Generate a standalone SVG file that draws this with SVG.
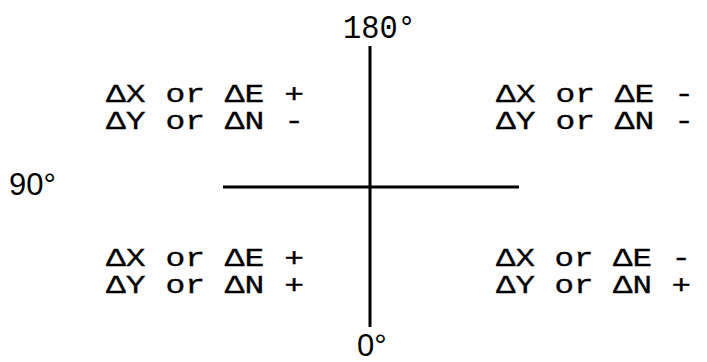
<svg xmlns="http://www.w3.org/2000/svg" width="707" height="362" viewBox="0 0 707 362">
<style>
.q{font-family:"Liberation Mono","DejaVu Sans Mono",monospace;font-size:25px;fill:#000;stroke:#000;stroke-width:0.3}
.d{font-family:"Liberation Sans",Arial,sans-serif;font-size:31px;fill:#000}
.m{font-family:"Liberation Mono","DejaVu Sans Mono",monospace;font-size:33px;fill:#000}
.ax{stroke:#000;stroke-width:3;fill:none}
</style>
<rect width="707" height="362" fill="#fff"/>
<g id="axes">
<line class="ax" x1="370" y1="46" x2="370" y2="327"/>
<line class="ax" x1="223" y1="187" x2="519" y2="187"/>
</g>
<g id="label-180"><text class="m" transform="translate(343,38) scale(0.92,1)">180°</text></g>
<g id="label-90"><text class="d" x="9" y="195">90°</text></g>
<g id="label-0"><text class="d" x="357" y="356" font-size="29">0°</text></g>
<g id="quad-ul">
<text class="q" transform="translate(106,102) scale(1.32,1)">ΔX or ΔE +</text>
<text class="q" transform="translate(106,129) scale(1.32,1)">ΔY or ΔN -</text>
</g>
<g id="quad-ur">
<text class="q" transform="translate(496,102) scale(1.32,1)">ΔX or ΔE -</text>
<text class="q" transform="translate(496,129) scale(1.32,1)">ΔY or ΔN -</text>
</g>
<g id="quad-ll">
<text class="q" transform="translate(106,266) scale(1.32,1)">ΔX or ΔE +</text>
<text class="q" transform="translate(106,293) scale(1.32,1)">ΔY or ΔN +</text>
</g>
<g id="quad-lr">
<text class="q" transform="translate(496,266) scale(1.3,1)">ΔX or ΔE -</text>
<text class="q" transform="translate(496,293) scale(1.3,1)">ΔY or ΔN +</text>
</g>
</svg>
